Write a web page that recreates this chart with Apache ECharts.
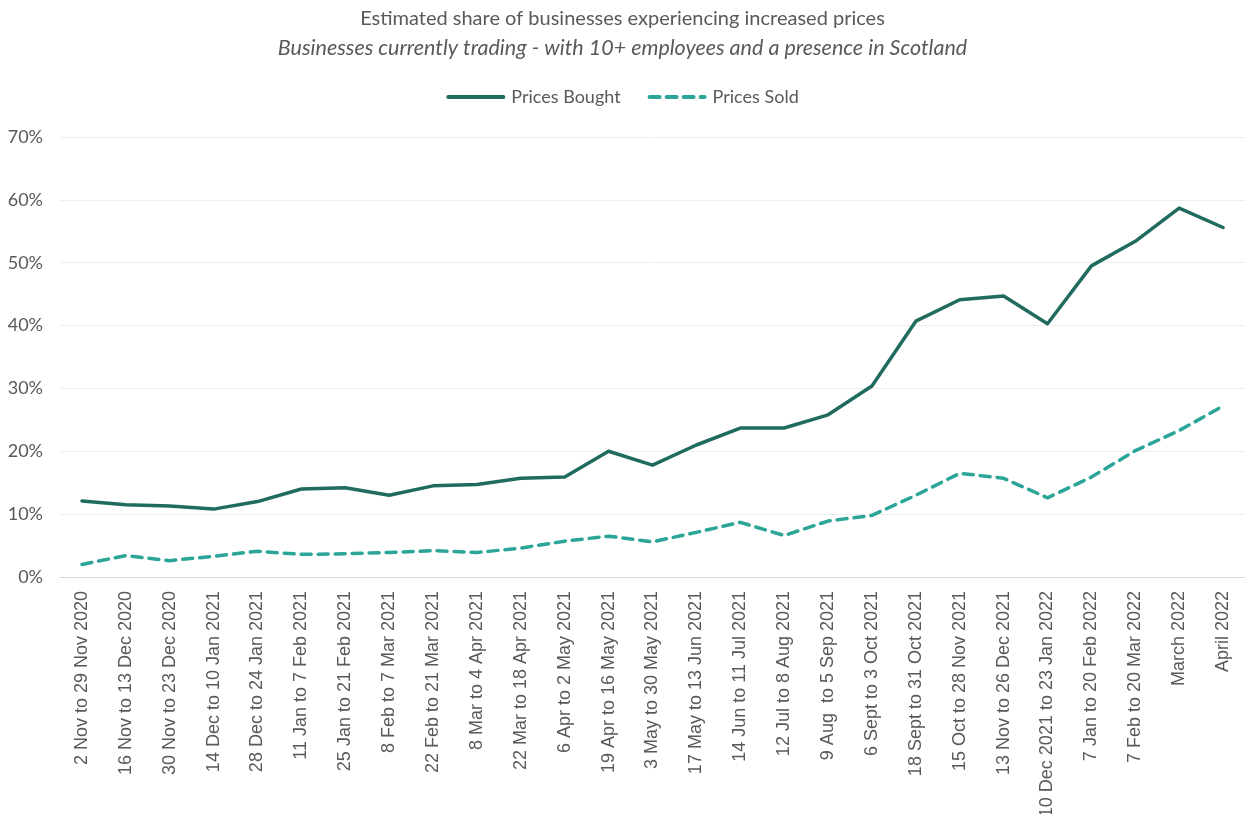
<!DOCTYPE html>
<html>
<head>
<meta charset="utf-8">
<script src="https://cdn.jsdelivr.net/npm/echarts@6/dist/echarts.min.js"></script>
<style>
  html, body { margin: 0; padding: 0; background: #ffffff; }
  #chart { width: 1245px; height: 814px; }
</style>
</head>
<body>
<div id="chart"></div>
<script>
// Survey waves (x axis)
const categories = [
  '2 Nov to 29 Nov 2020', '16 Nov to 13 Dec 2020', '30 Nov to 23 Dec 2020',
  '14 Dec to 10 Jan 2021', '28 Dec to 24 Jan 2021', '11 Jan to 7 Feb 2021',
  '25 Jan to 21 Feb 2021', '8 Feb to 7 Mar 2021', '22 Feb to 21 Mar 2021',
  '8 Mar to 4 Apr 2021', '22 Mar to 18 Apr 2021', '6 Apr to 2 May 2021',
  '19 Apr to 16 May 2021', '3 May to 30 May 2021', '17 May to 13 Jun 2021',
  '14 Jun to 11 Jul 2021', '12 Jul to 8 Aug 2021', '9 Aug  to 5 Sep 2021',
  '6 Sept to 3 Oct 2021', '18 Sept to 31 Oct 2021', '15 Oct to 28 Nov 2021',
  '13 Nov to 26 Dec 2021', '10 Dec 2021 to 23 Jan 2022', '7 Jan to 20 Feb 2022',
  '7 Feb to 20 Mar 2022', 'March 2022', 'April 2022'
];

// Share of businesses (%) reporting increased prices
const pricesBought = [
  12.1, 11.5, 11.3, 10.8, 12.0, 14.0, 14.2, 13.0, 14.5, 14.7, 15.7, 15.9,
  20.0, 17.8, 21.0, 23.7, 23.7, 25.8, 30.4, 40.7, 44.1, 44.7, 40.3, 49.5,
  53.4, 58.7, 55.6
];
const pricesSold = [
  2.0, 3.4, 2.6, 3.3, 4.1, 3.6, 3.7, 3.9, 4.2, 3.9, 4.6, 5.7,
  6.5, 5.6, 7.1, 8.7, 6.6, 8.9, 9.8, 13.0, 16.5, 15.7, 12.6, 15.9,
  20.1, 23.3, 27.2
];

const yTicks = { min: 0, max: 70, interval: 10 };

const chart = echarts.init(document.getElementById('chart'), null, { renderer: 'canvas' });

const textGrey = '#595959';
const uiFont = 'Lato, "Open Sans", sans-serif';

chart.setOption({
  animation: false,
  backgroundColor: '#ffffff',
  title: [
    {
      text: 'Estimated share of businesses experiencing increased prices',
      left: 'center', top: 4,
      textStyle: { fontFamily: uiFont, fontSize: 20, fontWeight: 'normal', color: textGrey }
    },
    {
      text: 'Businesses currently trading - with 10+ employees and a presence in Scotland',
      left: 'center', top: 32,
      textStyle: { fontFamily: uiFont, fontSize: 21.5, fontWeight: 'normal', fontStyle: 'italic', color: textGrey }
    }
  ],
  legend: {
    top: 83,
    left: 'center',
    itemWidth: 55,
    itemHeight: 14,
    itemGap: 27,
    itemStyle: { opacity: 0 },
    lineStyle: { width: 4, cap: 'round' },
    textStyle: { fontFamily: uiFont, fontSize: 18, color: textGrey, padding: [0, 0, 0, 3] },
    data: ['Prices Bought', 'Prices Sold']
  },
  grid: { left: 60, right: 0, top: 137, bottom: 237, containLabel: false, outerBoundsMode: 'none' },
  xAxis: {
    type: 'category',
    data: categories,
    boundaryGap: true,
    axisLine: { show: true, lineStyle: { color: '#d9d9d9', width: 1 } },
    axisTick: { show: false },
    axisLabel: {
      interval: 0,
      rotate: 90,
      margin: 14,
      fontFamily: '"Liberation Sans", Arial, sans-serif',
      fontSize: 18,
      color: textGrey
    },
    splitLine: { show: false }
  },
  yAxis: {
    type: 'value',
    min: yTicks.min,
    max: yTicks.max,
    interval: yTicks.interval,
    axisLine: { show: false },
    axisTick: { show: false },
    axisLabel: {
      formatter: '{value}%',
      margin: 17,
      fontFamily: uiFont,
      fontSize: 18,
      color: textGrey
    },
    splitLine: { lineStyle: { color: '#eeeeee', width: 1 } }
  },
  series: [
    {
      name: 'Prices Bought',
      type: 'line',
      data: pricesBought,
      symbol: 'none',
      color: '#1f6b5f',
      lineStyle: { color: '#1f6b5f', width: 3.5, cap: 'round', join: 'round' }
    },
    {
      name: 'Prices Sold',
      type: 'line',
      data: pricesSold,
      symbol: 'none',
      color: '#2ba597',
      lineStyle: { color: '#2ba597', width: 3.5, type: [10, 7], cap: 'round', join: 'round' }
    }
  ]
});
</script>
</body>
</html>
